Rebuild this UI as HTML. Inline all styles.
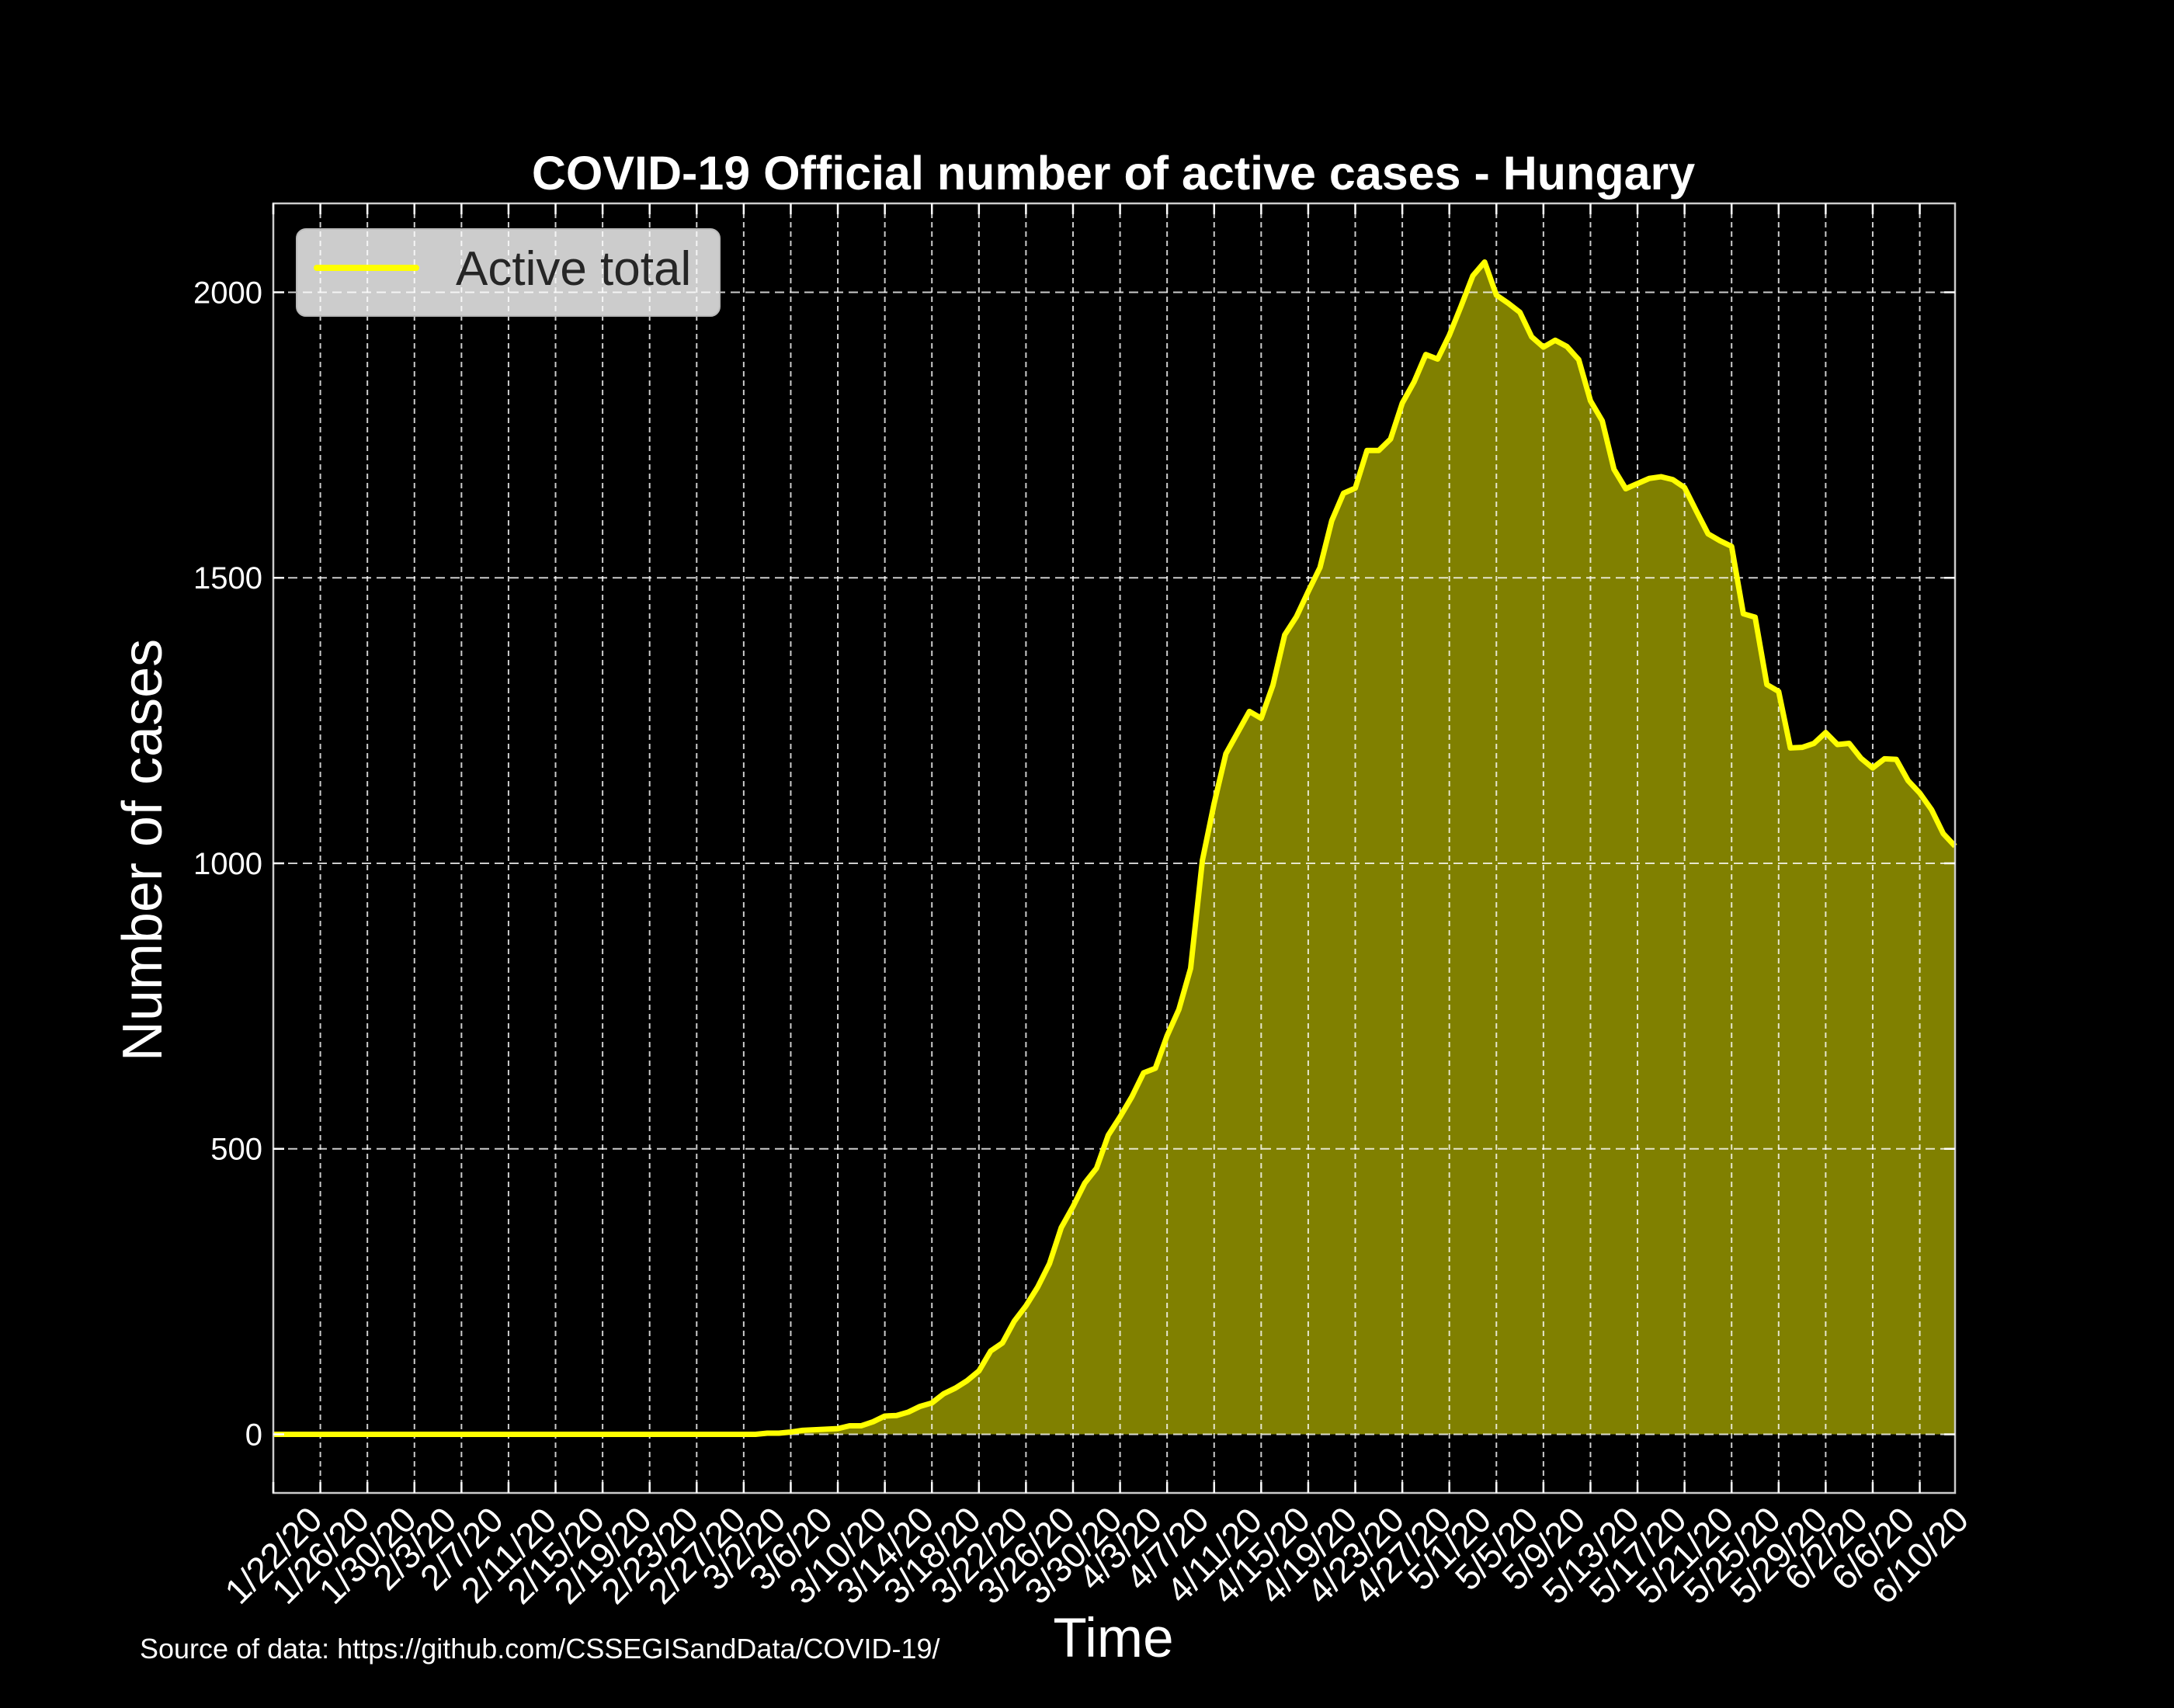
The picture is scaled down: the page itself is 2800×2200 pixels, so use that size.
<!DOCTYPE html>
<html><head><meta charset="utf-8"><style>
html,body{margin:0;padding:0;background:#000;}
svg{display:block;font-family:"Liberation Sans",sans-serif;}
</style></head><body>
<svg id="chart" width="2800" height="2200" viewBox="0 0 2800 2200" xmlns="http://www.w3.org/2000/svg">
<rect x="0" y="0" width="2800" height="2200" fill="#000"/>
<text x="1434" y="244" text-anchor="middle" font-size="61" font-weight="bold" fill="#fff">COVID-19 Official number of active cases - Hungary</text>
<g id="grid"></g>
<g id="area"></g>
<g id="axes"></g>
<g>
<rect x="382" y="295" width="545" height="112" rx="12" fill="rgba(255,255,255,0.8)" stroke="#bbb" stroke-width="2"/>
<line x1="408" y1="345" x2="536" y2="345" stroke="#ffff00" stroke-width="8" stroke-linecap="round"/>
<text x="587" y="367" font-size="62" fill="#262626">Active total</text>
</g>
<text transform="translate(208,1095) rotate(-90)" text-anchor="middle" font-size="72" fill="#fff">Number of cases</text>
<text x="1434" y="2134" text-anchor="middle" font-size="71" fill="#fff">Time</text>
<text x="180" y="2136" font-size="36" fill="#fff">Source of data: https://github.com/CSSEGISandData/COVID-19/</text>
</svg>
<script>
const values = [0,0,0,0,0,0,0,0,0,0,0,0,0,0,0,0,0,0,0,0,0,0,0,0,0,0,0,0,0,0,0,0,0,0,0,0,0,0,0,0,0,0,2,2,4,7,8,9,10,15,15,22,32,33,39,49,55,71,81,94,111,146,160,198,225,258,299,362,399,440,466,524,556,591,633,641,698,744,816,1005,1105,1192,1229,1266,1254,1312,1400,1432,1476,1518,1600,1648,1657,1723,1723,1743,1806,1843,1891,1883,1925,1976,2029,2053,1995,1981,1965,1922,1904,1916,1905,1882,1810,1775,1690,1656,1665,1674,1677,1672,1658,1617,1577,1565,1555,1437,1431,1313,1301,1202,1203,1210,1229,1208,1210,1184,1167,1183,1182,1145,1123,1094,1052,1030];
const xTickLabels = ["1/22/20","1/26/20","1/30/20","2/3/20","2/7/20","2/11/20","2/15/20","2/19/20","2/23/20","2/27/20","3/2/20","3/6/20","3/10/20","3/14/20","3/18/20","3/22/20","3/26/20","3/30/20","4/3/20","4/7/20","4/11/20","4/15/20","4/19/20","4/23/20","4/27/20","5/1/20","5/5/20","5/9/20","5/13/20","5/17/20","5/21/20","5/25/20","5/29/20","6/2/20","6/6/20","6/10/20"];
const yTicks = [0,500,1000,1500,2000];
const tickStep = 4;

const L=352,R=2518,T=262,B=1923;
const NS="http://www.w3.org/2000/svg";
const n=values.length;
const ymax=Math.max(...values), ymin=0, pad=(ymax-ymin)*0.05;
const y0=ymin-pad, y1=ymax+pad;
function xs(i){return L+(R-L)*i/(n-1);}
function ys(v){return B-(B-T)*(v-y0)/(y1-y0);}
function mk(tag,attrs,parent){const e=document.createElementNS(NS,tag);for(const k in attrs)e.setAttribute(k,attrs[k]);parent.appendChild(e);return e;}
const grid=document.getElementById('grid'), area=document.getElementById('area'), axes=document.getElementById('axes');

let d=`M${xs(0)},${ys(0)}`;
values.forEach((v,i)=>{d+=` L${xs(i).toFixed(2)},${ys(v).toFixed(2)}`;});
d+=` L${xs(n-1)},${ys(0)} Z`;
const fill=mk('path',{d:d,fill:'#808000'},area);



xTickLabels.forEach((lab,k)=>{
  const x=xs(k*tickStep);
  const g=mk('line',{x1:x,y1:T,x2:x,y2:B,stroke:'rgba(255,255,255,0.8)','stroke-width':2,'stroke-dasharray':'7,5'},grid);
  
  
});
yTicks.forEach(v=>{
  const y=ys(v);
  const g=mk('line',{x1:L,y1:y,x2:R,y2:y,stroke:'rgba(255,255,255,0.8)','stroke-width':2,'stroke-dasharray':'12,7'},grid);
  
  
});
area.parentNode.insertBefore(area,grid);

let ld='';
values.forEach((v,i)=>{ld+=(i?' L':'M')+xs(i).toFixed(2)+','+ys(v).toFixed(2);});
const line=mk('path',{d:ld,fill:'none',stroke:'#ffff00','stroke-width':7,'stroke-linejoin':'round'},axes);



const sp=mk('rect',{x:L,y:T,width:R-L,height:B-T,fill:'none',stroke:'#ccc','stroke-width':2.5},axes);



xTickLabels.forEach((lab,k)=>{
  const x=xs(k*tickStep);
  const t=mk('line',{x1:x,y1:B,x2:x,y2:B-14,stroke:'#fff','stroke-width':2.5},axes);
  
  
  const t2=mk('line',{x1:x,y1:T,x2:x,y2:T+14,stroke:'#fff','stroke-width':2.5},axes);
  
  
  const cy=B+20+lab.length*8.6;
  const tx=mk('text',{transform:`translate(${x},${cy}) rotate(-45)`,'text-anchor':'middle','dominant-baseline':'central','font-size':46,fill:'#fff'},axes);
  tx.textContent=lab;
  
  
});
yTicks.forEach(v=>{
  const y=ys(v);
  const t=mk('line',{x1:L,y1:y,x2:L+14,y2:y,stroke:'#fff','stroke-width':2.5},axes);
  
  
  const t2=mk('line',{x1:R,y1:y,x2:R-14,y2:y,stroke:'#fff','stroke-width':2.5},axes);
  
  
  const tx=mk('text',{x:L-14,y:y+14,'text-anchor':'end','font-size':40,fill:'#fff'},axes);
  tx.textContent=String(v);
  
  
});
</script>
</body></html>
